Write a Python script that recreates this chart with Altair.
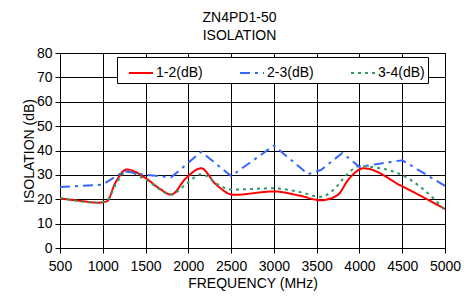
import altair as alt
import pandas as pd

# 1-2(dB)
f12 = [500, 700, 950, 1050, 1142, 1280, 1508, 1662, 1800, 1969, 2150, 2315, 2530, 3000, 3300, 3550, 3740, 3880, 4050, 4500, 5000]
v12 = [20.3, 19.5, 18.6, 19.2, 26.4, 32.2, 28.5, 24.4, 21.9, 28.5, 32.7, 26.4, 21.8, 23.2, 21.5, 19.6, 21.6, 28.5, 32.7, 25.3, 16.0]
# 2-3(dB)
f23 = [500, 1000, 1250, 1500, 1800, 2150, 2500, 3000, 3400, 3550, 3800, 4000, 4500, 5000]
v23 = [25.0, 26.0, 31.5, 30.0, 29.0, 39.5, 29.5, 42.0, 30.3, 32.0, 39.0, 33.3, 36.0, 25.5]
# 3-4(dB)
f34 = [500, 950, 1050, 1150, 1280, 1500, 1800, 2000, 2150, 2350, 2500, 3000, 3300, 3550, 3700, 3850, 4000, 4200, 4500, 4750, 5000]
v34 = [20.5, 18.6, 19.5, 26.0, 31.5, 28.0, 22.0, 27.0, 30.3, 26.0, 24.0, 24.5, 23.0, 21.0, 24.0, 30.0, 33.6, 33.0, 29.9, 24.0, 15.5]

series = ["1-2(dB)", "2-3(dB)", "3-4(dB)"]
colors = ["#FF0000", "#3366FF", "#339966"]
dashes = [[1, 0], [10, 5, 3, 5], [3, 4]]
x_ticks = [500, 1000, 1500, 2000, 2500, 3000, 3500, 4000, 4500, 5000]
y_ticks = [0, 10, 20, 30, 40, 50, 60, 70, 80]

rows = []
for name, fs, vs in zip(series, [f12, f23, f34], [v12, v23, v34]):
    for f, v in zip(fs, vs):
        rows.append({"freq": f, "iso": v, "series": name, "order": f})
df = pd.DataFrame(rows)

FONT = "Liberation Sans"
FS = 14

x = alt.X("freq:Q", scale=alt.Scale(domain=[500, 5000], nice=False),
          axis=alt.Axis(values=x_ticks, title="FREQUENCY (MHz)", labelFlush=False, format="d"))
y = alt.Y("iso:Q", scale=alt.Scale(domain=[0, 80], nice=False),
          axis=alt.Axis(values=y_ticks, title="ISOLATION (dB)", format="d"))

legend = alt.Legend(title=None, orient="none", legendX=57, legendY=4, direction="horizontal",
                    columns=3, columnPadding=28, symbolType="stroke", symbolSize=576,
                    symbolStrokeWidth=2, symbolOffset=8, labelFontSize=FS, labelFont=FONT,
                    labelColor="black", fillColor="white", strokeColor="black", padding=3,
                    labelOffset=2)

color = alt.Color("series:N", scale=alt.Scale(domain=series, range=colors), legend=legend)
dash = alt.StrokeDash("series:N", scale=alt.Scale(domain=series, range=dashes), legend=legend)

smooth = alt.Chart(df).transform_filter(alt.datum.series != "2-3(dB)").mark_line(
    interpolate="monotone", strokeWidth=2).encode(
    x=x, y=y, color=color, strokeDash=dash, order="order:Q",
)
straight = alt.Chart(df).transform_filter(alt.datum.series == "2-3(dB)").mark_line(
    interpolate="linear", strokeWidth=2).encode(
    x=x, y=y, color=color, strokeDash=dash, order="order:Q",
)

chart = alt.layer(smooth, straight).properties(
    width=385, height=195,
    title=alt.TitleParams(text=["ZN4PD1-50", "ISOLATION"], fontSize=14, font=FONT,
                          fontWeight="normal", color="black", anchor="middle", dx=-13,
                          lineHeight=18, offset=3),
    autosize=alt.AutoSizeParams(type="none"),
    padding={"left": 52, "top": 45, "right": 16, "bottom": 46},
).configure_view(stroke="black", strokeWidth=1).configure_axis(
    grid=True, gridColor="black", gridOpacity=1, gridWidth=1,
    domainColor="black", tickColor="black", tickSize=5,
    labelFont=FONT, labelFontSize=FS, labelColor="black",
    titleFont=FONT, titleFontSize=FS, titleFontWeight="normal", titleColor="black",
).configure_axisX(labelPadding=6, titlePadding=3).configure_axisY(labelPadding=3, titlePadding=0)

chart.save("out.html", embed_options={"renderer": "svg", "actions": False})
